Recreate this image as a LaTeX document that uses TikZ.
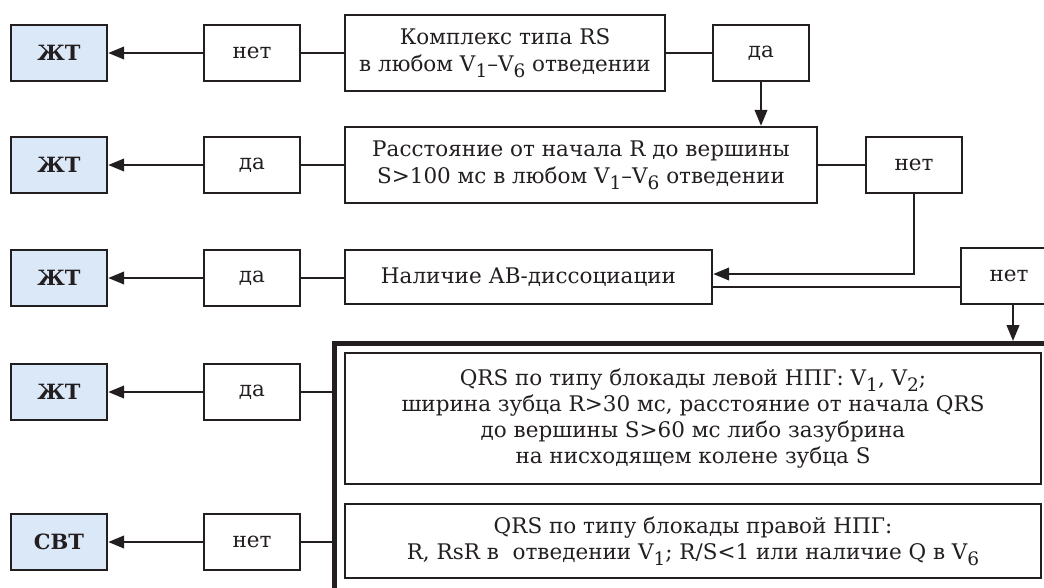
\documentclass[tikz,border=0pt]{standalone}
\usepackage{fontspec}
\setmainfont{DejaVu Serif}
\usetikzlibrary{arrows.meta,calc}
\definecolor{ink}{HTML}{231F20}
\definecolor{resfill}{HTML}{DAE8F7}
\newcommand{\lidx}[1]{\raisebox{-0.55ex}{\fontsize{18.5}{18.5}\selectfont #1}}
\begin{document}
\begin{tikzpicture}[x=1pt,y=-1pt,
  box/.style={draw=ink, line width=2.4pt, fill=white, inner sep=0pt, align=center, text=ink,
    font=\fontsize{21.5}{27}\selectfont},
  resbox/.style={box, fill=resfill, minimum width=96pt, minimum height=56pt,
    font=\bfseries\fontsize{21}{24}\selectfont},
  ansbox/.style={box, minimum width=96pt, minimum height=56pt},
  conn/.style={draw=ink, line width=2.4pt},
  arr/.style={conn, -{Triangle[length=16pt,width=12.5pt]}}
]
\useasboundingbox (0,0) rectangle (1044,587);
\clip (0,0) rectangle (1044,587);
% row 1
\node[resbox] (R1) at (59,53) {ЖТ};
\node[ansbox] (n1) at (252,53) {нет};
\node[box, minimum width=320pt, minimum height=76pt] (B1) at (505,53) {Комплекс типа RS\\в любом V\lidx{1}–V\lidx{6} отведении};
\node[ansbox] (d1) at (761,53) {да};
% row 2
\node[resbox] (R2) at (59,165) {ЖТ};
\node[ansbox] (d2) at (252,165) {да};
\node[box, minimum width=472pt, minimum height=76pt] (B2) at (581,165) {Расстояние от начала R до вершины\\S>100 мс в любом V\lidx{1}–V\lidx{6} отведении};
\node[ansbox] (n2) at (914,165) {нет};
% row 3
\node[resbox] (R3) at (59,278) {ЖТ};
\node[ansbox] (d3) at (252,278) {да};
\node[box, minimum width=367pt, minimum height=54pt] (B3) at (528.5,277) {Наличие АВ-диссоциации};
\node[ansbox] (n3) at (1009,276) {нет};
% thick frame
\coordinate (TL) at (334.5,343.5);
\coordinate (TBedge) at (332,341);
\draw[ink, line width=5pt] (334.5,600) -- (TL) -- (1060,343.5);
% row 4/5
\node[resbox] (R4) at (59,392) {ЖТ};
\node[ansbox] (d4) at (252,392) {да};
\node[box, minimum width=696pt, minimum height=131pt, font=\fontsize{21.5}{26.3}\selectfont] (B4) at (693,418.5) {QRS по типу блокады левой НПГ: V\lidx{1}, V\lidx{2};\\ширина зубца R>30 мс, расстояние от начала QRS\\до вершины S>60 мс либо зазубрина\\на нисходящем колене зубца S};
\node[resbox] (R5) at (59,542) {СВТ};
\node[ansbox] (n5) at (252,542) {нет};
\node[box, minimum width=696pt, minimum height=74pt, font=\fontsize{21.5}{26.3}\selectfont] (B5) at (693,541) {QRS по типу блокады правой НПГ:\\R, RsR в \ отведении V\lidx{1}; R/S<1 или наличие Q в V\lidx{6}};
% connectors
\draw[arr] (n1) -- (R1);
\draw[conn] (n1.east) -- (n1.east -| B1.west);
\draw[conn] (d1.west -| B1.east) -- (d1.west);
\draw[arr] (d1.south) -- (d1.south |- B2.north);
\draw[arr] (d2) -- (R2);
\draw[conn] (d2.east) -- (d2.east -| B2.west);
\draw[conn] (n2.west -| B2.east) -- (n2.west);
\draw[arr] (n2.south) |- ([yshift=3pt]B3.east);
\draw[arr] (d3) -- (R3);
\draw[conn] (d3.east) -- (d3.east -| B3.west);
\draw[conn] ([yshift=-10pt]B3.east) -- ([yshift=-10pt]B3.east -| n3.west);
\draw[arr] ([xshift=4pt]n3.south) -- ([xshift=4pt]n3.south |- TBedge);
\draw[arr] (d4) -- (R4);
\draw[conn] (d4.east) -- (d4.east -| TBedge);
\draw[arr] (n5) -- (R5);
\draw[conn] (n5.east) -- (n5.east -| TBedge);
\end{tikzpicture}
\end{document}
